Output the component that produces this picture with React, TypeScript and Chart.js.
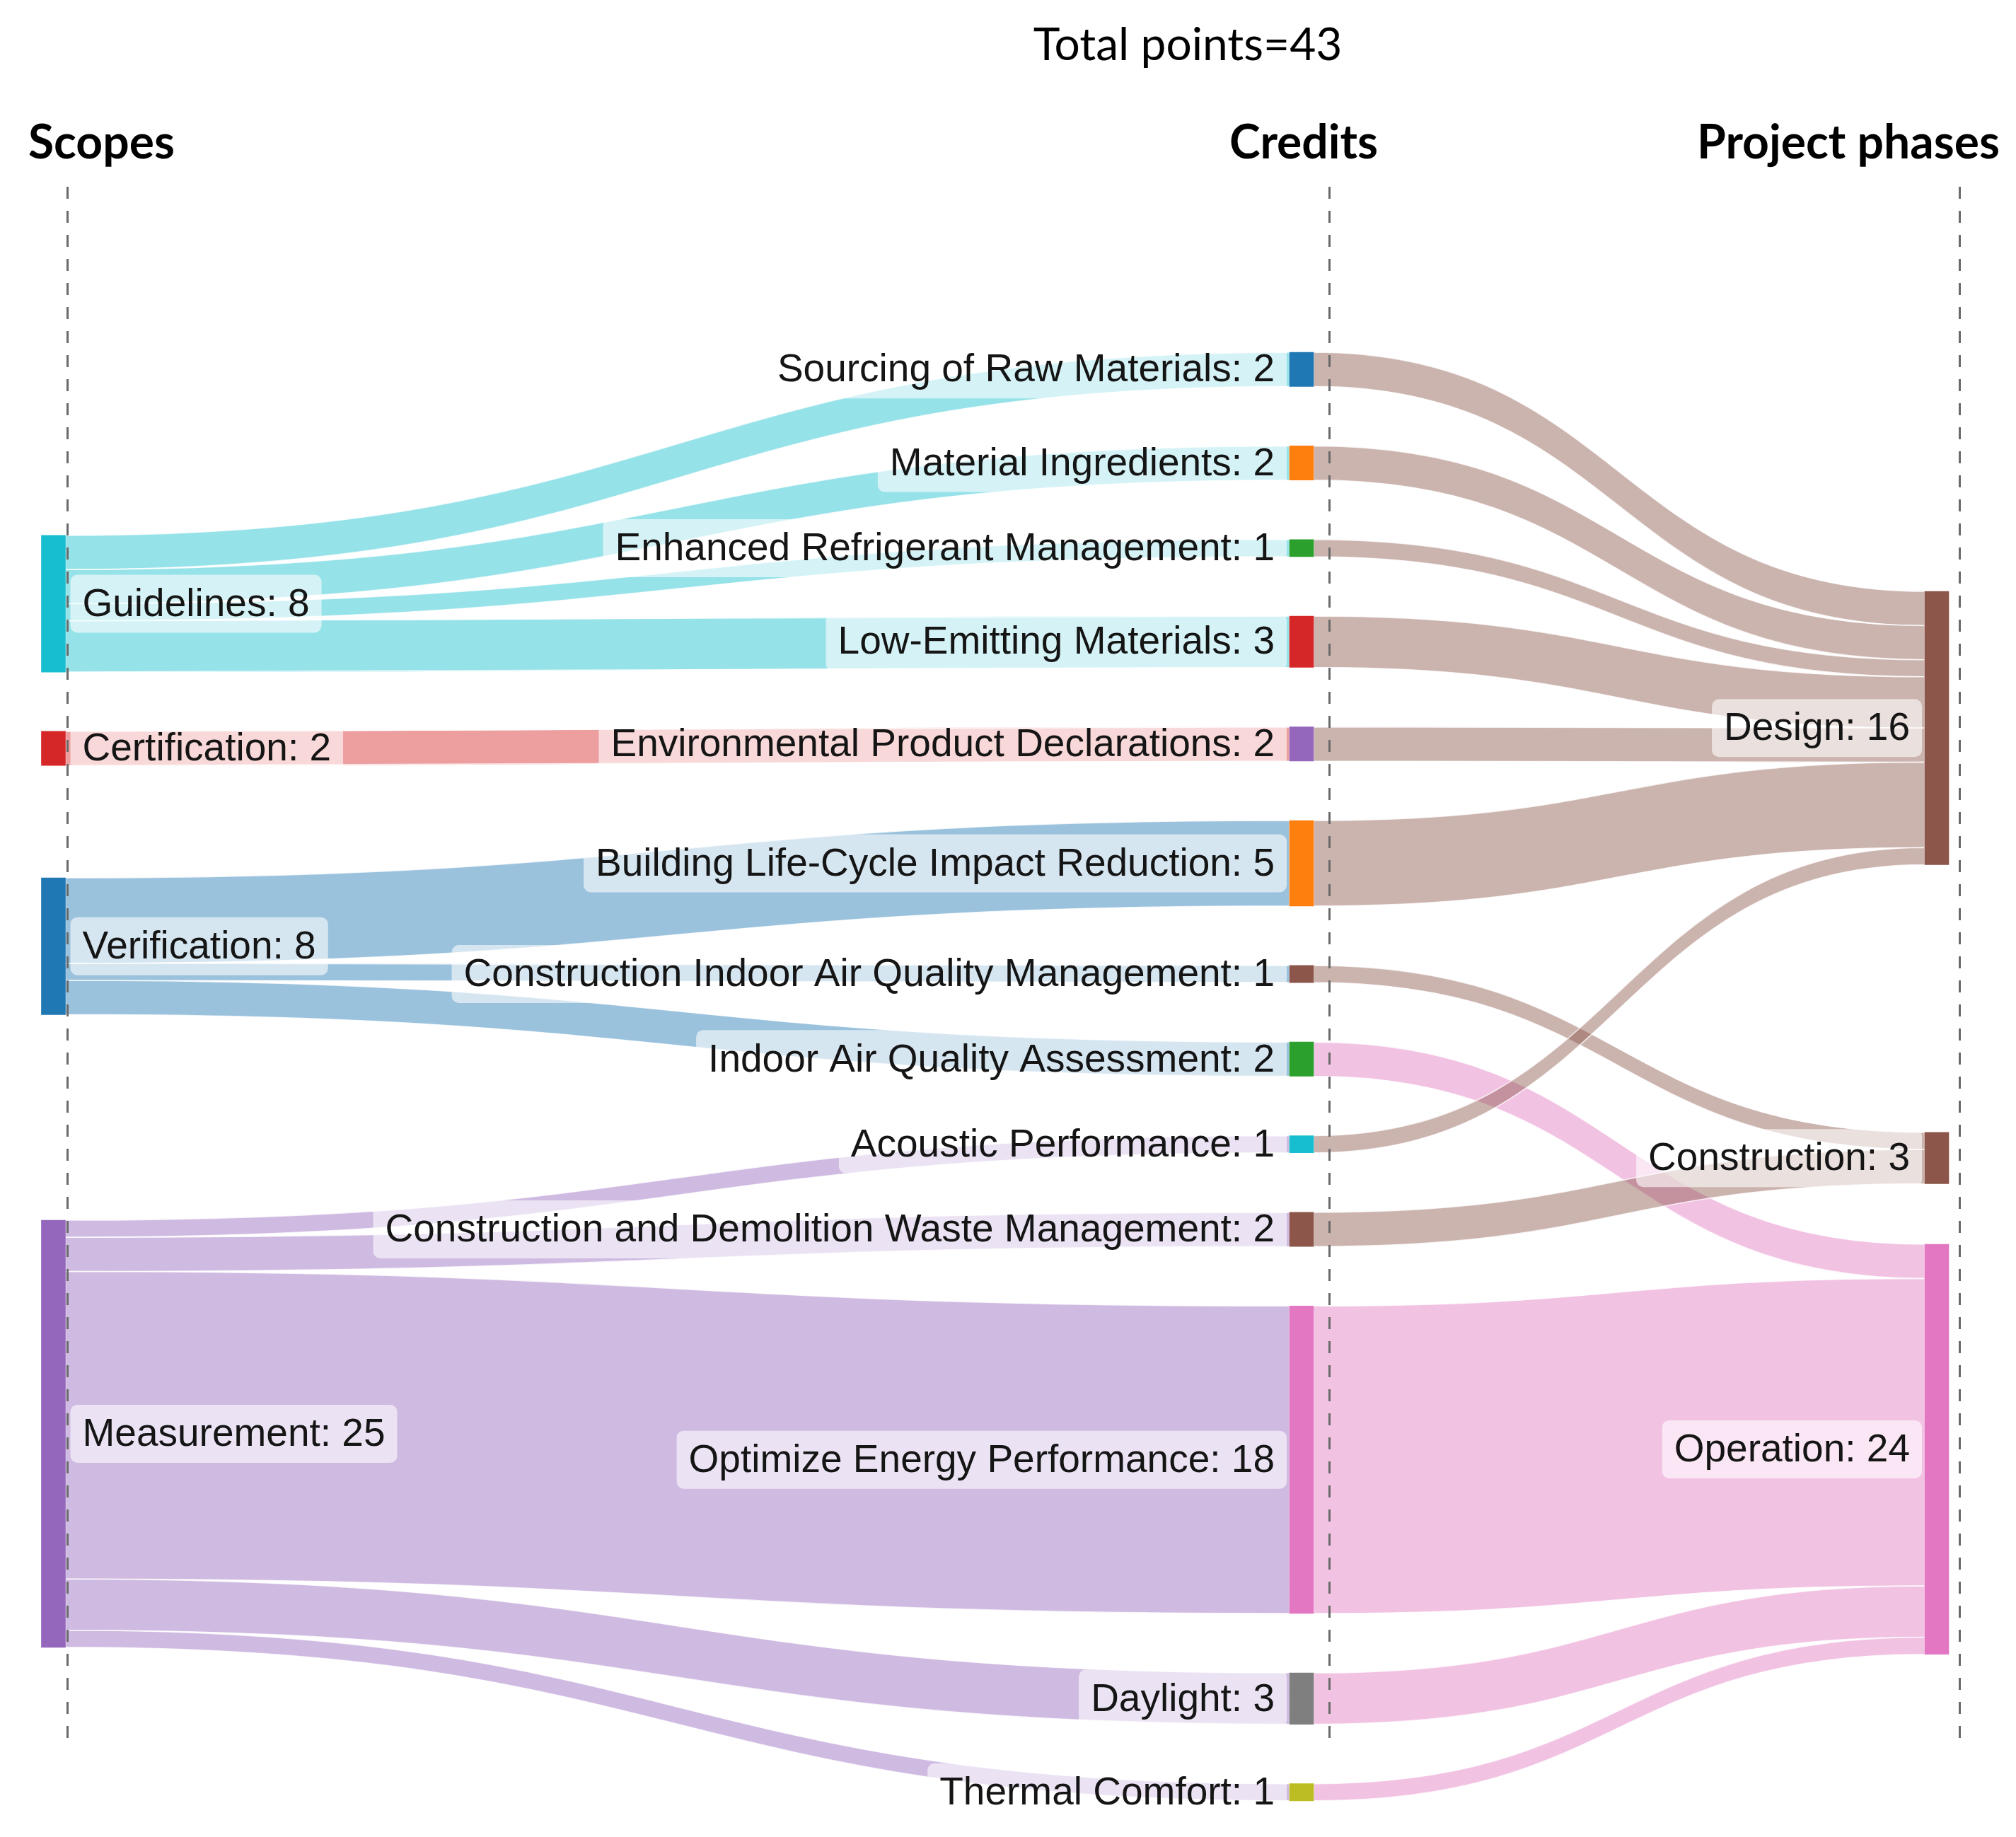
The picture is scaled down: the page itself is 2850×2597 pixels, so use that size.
import React, { useEffect, useRef } from "react";
import { Chart, registerables } from "chart.js";

Chart.register(...registerables);

// ---------------- data ----------------
const chartTitle = "Total points=43";
const columnTitles = ["Scopes", "Credits", "Project phases"];

const scopes = ["Guidelines", "Certification", "Verification", "Measurement"];

const credits = [
  "Sourcing of Raw Materials",
  "Material Ingredients",
  "Enhanced Refrigerant Management",
  "Low-Emitting Materials",
  "Environmental Product Declarations",
  "Building Life-Cycle Impact Reduction",
  "Construction Indoor Air Quality Management",
  "Indoor Air Quality Assessment",
  "Acoustic Performance",
  "Construction and Demolition Waste Management",
  "Optimize Energy Performance",
  "Daylight",
  "Thermal Comfort",
];
const creditPoints = [2, 2, 1, 3, 2, 5, 1, 2, 1, 2, 18, 3, 1];
// index of the scope feeding each credit
const creditScope = [0, 0, 0, 0, 1, 2, 2, 2, 3, 3, 3, 3, 3];

const phases = ["Design", "Construction", "Operation"];
// index of the project phase each credit flows to
const creditPhase = [0, 0, 0, 0, 0, 0, 1, 2, 0, 1, 2, 2, 2];

// ---------------- styles / layout ----------------
const scopeColors = ["#17becf", "#d62728", "#1f77b4", "#9467bd"];
const creditColors = [
  "#1f77b4", "#ff7f0e", "#2ca02c", "#d62728", "#9467bd", "#ff7f0e", "#8c564b",
  "#2ca02c", "#17becf", "#8c564b", "#e377c2", "#7f7f7f", "#bcbd22",
];
const phaseColors = ["#8c564b", "#8c564b", "#e377c2"];

const LAYOUT = {
  canvasW: 2834,
  canvasH: 2581,
  columnX: [0, 0.66272, 1],
  xMin: -0.025352,
  xMax: 1.039061,
  yMin: -20.29,
  yMax: 86.584,
  nodePad: 3.483,
  // vertical placement (in points) of the dragged outer-column nodes
  scopeTop: [10.72, 22.19, 30.77, 50.81],
  phaseTop: [14.0, 45.67, 52.22],
  nodeW: 34,
  guideOffset: [19.5, 39, 32],
  guideTop: 256,
  guideBottom: 2454,
};

function hexA(hex: string, a: number) {
  const n = parseInt(hex.slice(1), 16);
  return `rgba(${(n >> 16) & 255},${(n >> 8) & 255},${n & 255},${a})`;
}

type NodeT = { name: string; value: number; col: number; top: number; color: string };
type LinkT = { s: NodeT; t: NodeT; value: number; color: string; sy: number; ty: number };

function buildSankey() {
  const scopeVals = scopes.map((_, i) =>
    creditPoints.reduce((a, v, k) => a + (creditScope[k] === i ? v : 0), 0)
  );
  const phaseVals = phases.map((_, i) =>
    creditPoints.reduce((a, v, k) => a + (creditPhase[k] === i ? v : 0), 0)
  );
  const scopeNodes: NodeT[] = scopes.map((n, i) => ({
    name: n, value: scopeVals[i], col: 0, top: LAYOUT.scopeTop[i], color: scopeColors[i],
  }));
  let acc = 0;
  const creditNodes: NodeT[] = credits.map((n, i) => {
    const node = { name: n, value: creditPoints[i], col: 1, top: acc, color: creditColors[i] };
    acc += creditPoints[i] + LAYOUT.nodePad;
    return node;
  });
  const phaseNodes: NodeT[] = phases.map((n, i) => ({
    name: n, value: phaseVals[i], col: 2, top: LAYOUT.phaseTop[i], color: phaseColors[i],
  }));
  const links: LinkT[] = [];
  credits.forEach((_, i) => {
    links.push({ s: scopeNodes[creditScope[i]], t: creditNodes[i], value: creditPoints[i], color: scopeColors[creditScope[i]], sy: 0, ty: 0 });
  });
  credits.forEach((_, i) => {
    links.push({ s: creditNodes[i], t: phaseNodes[creditPhase[i]], value: creditPoints[i], color: phaseColors[creditPhase[i]], sy: 0, ty: 0 });
  });
  const all = [...scopeNodes, ...creditNodes, ...phaseNodes];
  all.forEach((node) => {
    const out = links.filter((l) => l.s === node).sort((a, b) => a.t.top - b.t.top);
    let y = node.top;
    out.forEach((l) => { l.sy = y; y += l.value; });
    const inc = links.filter((l) => l.t === node).sort((a, b) => a.s.top - b.s.top);
    y = node.top;
    inc.forEach((l) => { l.ty = y; y += l.value; });
  });
  return { nodes: all, links };
}

const sankeyPlugin = {
  id: "sankeyDraw",
  beforeDatasetsDraw(chart: any, _a: any, opts: any) {
    const { ctx } = chart;
    const xs = chart.scales.x;
    const ys = chart.scales.y;
    const links: LinkT[] = opts.links;
    const hw = LAYOUT.nodeW / 2;
    ctx.save();
    for (const l of links) {
      const x0 = xs.getPixelForValue(LAYOUT.columnX[l.s.col]) + hw;
      const x1 = xs.getPixelForValue(LAYOUT.columnX[l.t.col]) - hw;
      const s0 = ys.getPixelForValue(l.sy);
      const s1 = ys.getPixelForValue(l.sy + l.value);
      const t0 = ys.getPixelForValue(l.ty);
      const t1 = ys.getPixelForValue(l.ty + l.value);
      const xm = (x0 + x1) / 2;
      ctx.beginPath();
      ctx.moveTo(x0, s0);
      ctx.bezierCurveTo(xm, s0, xm, t0, x1, t0);
      ctx.lineTo(x1, t1);
      ctx.bezierCurveTo(xm, t1, xm, s1, x0, s1);
      ctx.closePath();
      ctx.fillStyle = hexA(l.color, 0.45);
      ctx.fill();
      ctx.strokeStyle = "rgba(255,255,255,0.8)";
      ctx.lineWidth = 1.5;
      ctx.stroke();
    }
    ctx.restore();
  },
  afterDatasetsDraw(chart: any, _a: any, opts: any) {
    const { ctx } = chart;
    const xs = chart.scales.x;
    const ys = chart.scales.y;
    const nodes: NodeT[] = opts.nodes;
    const hw = LAYOUT.nodeW / 2;
    ctx.save();
    // dashed column guides
    ctx.setLineDash([17, 17]);
    ctx.strokeStyle = "#6a6a6a";
    ctx.lineWidth = 3;
    LAYOUT.columnX.forEach((cx, i) => {
      const px = Math.round(xs.getPixelForValue(cx) + LAYOUT.guideOffset[i]) + 0.5;
      ctx.beginPath();
      ctx.moveTo(px, LAYOUT.guideTop);
      ctx.lineTo(px, LAYOUT.guideBottom);
      ctx.stroke();
    });
    ctx.setLineDash([]);
    // node labels
    ctx.font = "55px 'Liberation Sans', Arial, sans-serif";
    ctx.textBaseline = "middle";
    const padX = 17;
    const boxH = 82;
    for (const n of nodes) {
      const label = `${n.name}: ${n.value}`;
      const w = ctx.measureText(label).width;
      const cx = xs.getPixelForValue(LAYOUT.columnX[n.col]);
      const cy = ys.getPixelForValue(n.top + n.value / 2);
      let bx: number;
      if (n.col === 0) {
        bx = cx + hw + 7;
      } else {
        bx = cx - hw - 4 - (w + 2 * padX);
      }
      ctx.fillStyle = "rgba(255,255,255,0.6)";
      ctx.beginPath();
      (ctx as any).roundRect(bx, cy - boxH / 2, w + 2 * padX, boxH, 10);
      ctx.fill();
      ctx.fillStyle = "#151515";
      ctx.textAlign = "left";
      ctx.fillText(label, bx + padX, cy + 2);
    }
    ctx.restore();
  },
  afterDraw(chart: any) {
    const { ctx } = chart;
    ctx.save();
    ctx.fillStyle = "#000";
    ctx.textBaseline = "alphabetic";
    ctx.font = "64px Lato, 'Open Sans', sans-serif";
    ctx.textAlign = "center";
    ctx.fillText(chartTitle, 1671, 77);
    ctx.font = "bold 66px Lato, 'Open Sans', sans-serif";
    ctx.textAlign = "left";
    ctx.fillText(columnTitles[0], 32, 216);
    ctx.textAlign = "center";
    ctx.fillText(columnTitles[1], 1835, 216);
    ctx.fillText(columnTitles[2], 2605, 216);
    ctx.restore();
  },
};

export default function App() {
  const ref = useRef<HTMLCanvasElement | null>(null);
  useEffect(() => {
    if (!ref.current) return;
    const { nodes, links } = buildSankey();
    const chart = new Chart(ref.current, {
      type: "bar",
      data: {
        datasets: [
          {
            data: nodes.map((n) => ({ x: LAYOUT.columnX[n.col], y: [n.top, n.top + n.value] })) as any,
            backgroundColor: nodes.map((n) => n.color),
            borderWidth: 0,
            barThickness: LAYOUT.nodeW,
            grouped: false,
          } as any,
        ],
      },
      options: {
        animation: false,
        responsive: false,
        maintainAspectRatio: false,
        devicePixelRatio: 1,
        layout: { padding: 0 },
        scales: {
          x: { type: "linear", min: LAYOUT.xMin, max: LAYOUT.xMax, offset: false, display: false },
          y: { type: "linear", min: LAYOUT.yMin, max: LAYOUT.yMax, reverse: true, display: false },
        },
        plugins: {
          legend: { display: false },
          tooltip: { enabled: false },
          title: { display: false },
          sankeyDraw: { nodes, links },
        } as any,
      },
      plugins: [sankeyPlugin],
    });
    return () => chart.destroy();
  }, []);
  return (
    <canvas
      ref={ref}
      width={LAYOUT.canvasW}
      height={LAYOUT.canvasH}
      style={{ display: "block", width: LAYOUT.canvasW, height: LAYOUT.canvasH }}
    />
  );
}
